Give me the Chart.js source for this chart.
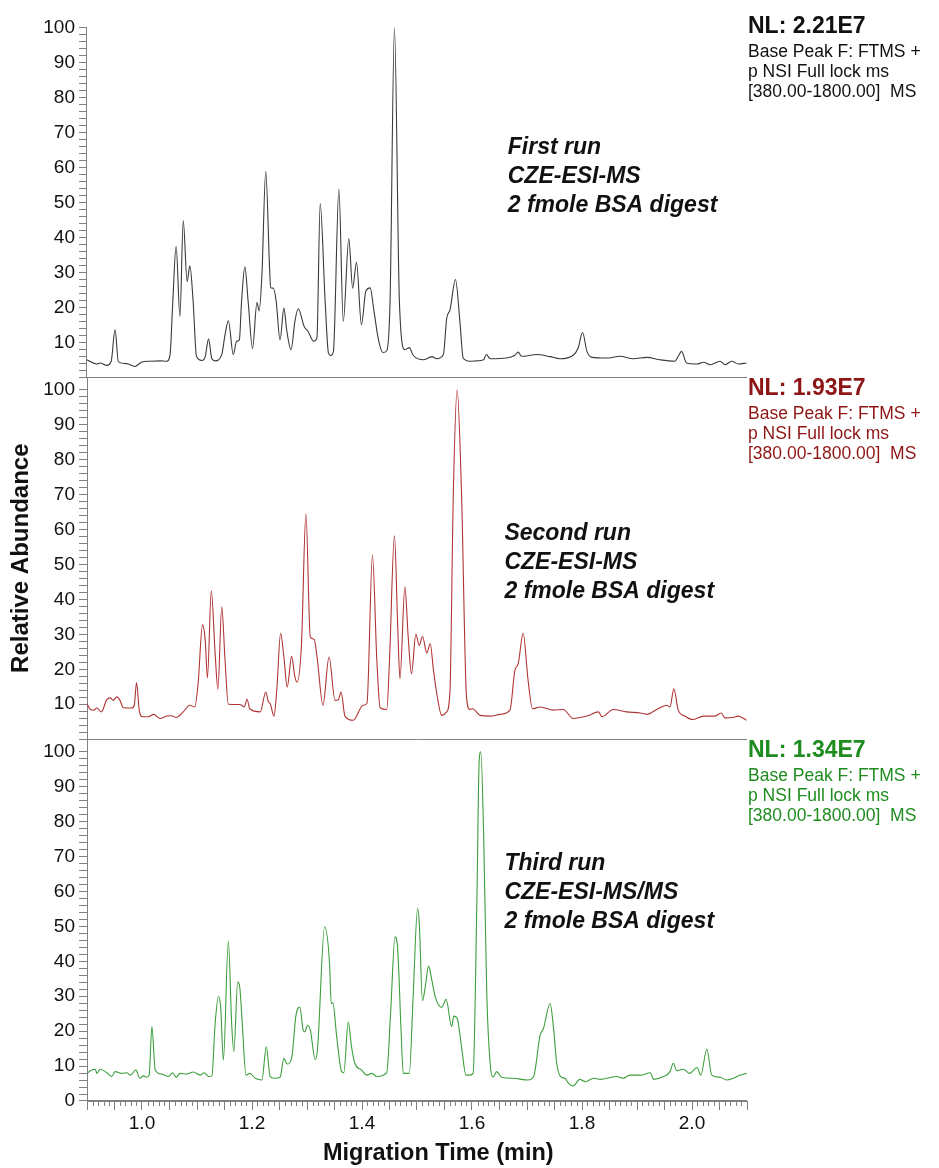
<!DOCTYPE html>
<html lang="en">
<head>
<meta charset="UTF-8">
<title>CZE-ESI-MS base peak electropherograms</title>
<script src="https://cdn.jsdelivr.net/npm/chart.js"></script>
<style>
  html, body { margin: 0; padding: 0; background: #fff; }
  canvas { display: block; }
</style>
</head>
<body>
<canvas id="runsChart" width="939" height="1168"></canvas>
<script>
// migration time (min) / relative abundance (%)
const firstRunTime = [0.900, 0.918, 0.924, 0.936, 0.944, 0.951, 0.957, 0.972, 0.987, 0.999, 1.015, 1.033, 1.045, 1.051, 1.056, 1.062, 1.069, 1.075, 1.082, 1.087, 1.093, 1.099, 1.109, 1.115, 1.121, 1.127, 1.133, 1.145, 1.151, 1.157, 1.166, 1.172, 1.177, 1.181, 1.187, 1.193, 1.201, 1.209, 1.213, 1.218, 1.225, 1.232, 1.234, 1.239, 1.244, 1.251, 1.258, 1.263, 1.271, 1.278, 1.284, 1.295, 1.302, 1.312, 1.318, 1.324, 1.333, 1.339, 1.343, 1.348, 1.358, 1.366, 1.376, 1.383, 1.390, 1.399, 1.407, 1.415, 1.421, 1.430, 1.438, 1.445, 1.451, 1.459, 1.468, 1.478, 1.486, 1.493, 1.512, 1.527, 1.536, 1.548, 1.554, 1.560, 1.570, 1.578, 1.584, 1.596, 1.609, 1.621, 1.626, 1.633, 1.663, 1.678, 1.684, 1.690, 1.718, 1.742, 1.760, 1.784, 1.793, 1.801, 1.809, 1.818, 1.845, 1.869, 1.893, 1.918, 1.942, 1.969, 1.975, 1.981, 1.990, 2.009, 2.021, 2.033, 2.051, 2.060, 2.072, 2.084, 2.099];
const firstRunAbundance = [5.0, 3.8, 4.1, 3.4, 4.6, 13.6, 4.4, 3.9, 3.1, 4.3, 4.6, 4.7, 4.6, 6.5, 21.7, 37.5, 17.4, 44.9, 27.4, 31.9, 21.7, 6.0, 4.8, 6.0, 11.0, 5.3, 4.7, 6.5, 12.2, 16.2, 6.5, 10.3, 10.7, 21.7, 31.6, 21.7, 8.2, 21.4, 19.0, 29.2, 59.0, 31.1, 25.6, 25.5, 21.7, 10.7, 19.8, 13.6, 7.9, 16.0, 19.6, 14.5, 13.1, 10.3, 11.2, 49.7, 21.7, 6.9, 6.2, 7.4, 53.8, 16.0, 39.7, 25.5, 32.9, 15.0, 24.7, 25.6, 19.8, 10.7, 7.1, 7.6, 21.7, 100, 21.7, 7.9, 8.5, 6.3, 5.0, 5.9, 5.3, 6.5, 16.9, 19.3, 28.0, 16.0, 5.5, 4.6, 4.7, 5.0, 6.5, 5.3, 5.5, 6.3, 7.2, 6.0, 6.5, 5.9, 5.3, 6.3, 8.4, 12.8, 7.4, 5.7, 5.5, 6.0, 5.3, 5.7, 5.0, 4.6, 6.0, 7.4, 4.1, 3.8, 4.3, 3.6, 4.6, 3.6, 4.6, 3.8, 4.1];

const secondRunTime = [0.900, 0.906, 0.912, 0.918, 0.926, 0.936, 0.942, 0.948, 0.954, 0.960, 0.966, 0.981, 0.986, 0.990, 0.995, 1.001, 1.012, 1.021, 1.033, 1.045, 1.054, 1.062, 1.075, 1.087, 1.096, 1.102, 1.110, 1.115, 1.119, 1.126, 1.133, 1.138, 1.145, 1.151, 1.157, 1.178, 1.186, 1.191, 1.196, 1.215, 1.225, 1.230, 1.233, 1.240, 1.245, 1.252, 1.258, 1.264, 1.272, 1.278, 1.282, 1.290, 1.298, 1.306, 1.313, 1.319, 1.329, 1.340, 1.351, 1.357, 1.362, 1.369, 1.384, 1.402, 1.409, 1.419, 1.427, 1.433, 1.445, 1.450, 1.459, 1.465, 1.469, 1.478, 1.484, 1.490, 1.498, 1.504, 1.510, 1.518, 1.524, 1.530, 1.536, 1.545, 1.554, 1.560, 1.566, 1.573, 1.581, 1.590, 1.596, 1.601, 1.615, 1.633, 1.651, 1.669, 1.678, 1.684, 1.693, 1.702, 1.710, 1.724, 1.748, 1.766, 1.784, 1.809, 1.830, 1.836, 1.857, 1.881, 1.906, 1.918, 1.936, 1.954, 1.960, 1.967, 1.975, 1.987, 2.002, 2.021, 2.042, 2.053, 2.060, 2.075, 2.084, 2.099];
const secondRunAbundance = [10.2, 8.5, 8.3, 8.9, 7.8, 11.3, 11.8, 11.1, 12.1, 11.1, 9.0, 8.9, 9.7, 16.2, 8.3, 6.4, 6.4, 7.1, 5.9, 6.6, 6.7, 6.2, 7.8, 9.7, 9.2, 15.9, 32.7, 28.2, 17.5, 42.5, 24.4, 14.3, 37.9, 22.5, 10.0, 9.9, 9.2, 11.4, 8.7, 7.8, 13.5, 10.6, 10.2, 6.6, 14.0, 30.3, 23.5, 14.9, 23.7, 17.8, 16.3, 27.3, 64.5, 29.2, 28.6, 22.5, 9.7, 23.5, 11.1, 11.3, 13.5, 6.6, 5.4, 9.7, 10.2, 52.7, 22.5, 9.0, 8.5, 22.5, 58.2, 32.0, 17.3, 43.6, 29.2, 18.7, 30.1, 26.8, 29.4, 24.6, 27.3, 19.7, 13.0, 6.8, 7.8, 14.0, 70.1, 100, 70.1, 12.1, 8.5, 8.7, 6.8, 6.6, 7.1, 8.3, 19.7, 21.6, 30.3, 16.8, 8.7, 9.2, 8.3, 8.5, 5.9, 6.6, 7.8, 6.4, 8.5, 7.8, 7.5, 7.1, 8.5, 9.7, 9.2, 14.4, 8.3, 6.6, 5.6, 6.6, 6.6, 7.5, 6.1, 6.2, 6.6, 5.4];

const thirdRunTime = [0.900, 0.909, 0.915, 0.918, 0.924, 0.936, 0.945, 0.951, 0.963, 0.972, 0.979, 0.989, 0.996, 1.002, 1.009, 1.013, 1.018, 1.024, 1.036, 1.048, 1.056, 1.062, 1.069, 1.081, 1.093, 1.106, 1.113, 1.121, 1.127, 1.133, 1.139, 1.143, 1.148, 1.157, 1.163, 1.167, 1.174, 1.178, 1.183, 1.189, 1.196, 1.206, 1.218, 1.226, 1.233, 1.242, 1.251, 1.258, 1.264, 1.272, 1.280, 1.287, 1.293, 1.296, 1.301, 1.306, 1.315, 1.319, 1.332, 1.341, 1.344, 1.347, 1.354, 1.363, 1.367, 1.375, 1.381, 1.387, 1.399, 1.409, 1.418, 1.427, 1.445, 1.452, 1.460, 1.465, 1.471, 1.475, 1.486, 1.493, 1.501, 1.504, 1.510, 1.515, 1.521, 1.527, 1.533, 1.545, 1.553, 1.563, 1.567, 1.573, 1.581, 1.589, 1.596, 1.602, 1.609, 1.613, 1.616, 1.621, 1.627, 1.633, 1.638, 1.645, 1.654, 1.675, 1.702, 1.712, 1.724, 1.730, 1.742, 1.748, 1.754, 1.761, 1.769, 1.775, 1.784, 1.796, 1.806, 1.821, 1.833, 1.845, 1.863, 1.875, 1.887, 1.906, 1.924, 1.930, 1.948, 1.960, 1.966, 1.972, 1.984, 1.996, 2.009, 2.016, 2.027, 2.036, 2.051, 2.063, 2.075, 2.087, 2.099];
const thirdRunAbundance = [7.9, 8.9, 9.1, 7.9, 9.1, 8.1, 7.0, 8.4, 7.9, 8.1, 7.4, 8.9, 6.5, 7.2, 6.8, 7.4, 21.3, 8.9, 7.7, 7.0, 8.1, 6.8, 7.9, 7.7, 8.3, 7.4, 8.1, 7.0, 7.2, 22.2, 29.9, 27.0, 11.7, 45.8, 22.2, 14.1, 34.1, 32.2, 20.3, 7.4, 7.9, 6.5, 6.0, 15.5, 7.0, 6.5, 6.8, 12.2, 10.6, 12.2, 24.6, 26.8, 20.3, 19.8, 21.7, 20.3, 11.9, 14.6, 49.9, 39.4, 27.9, 28.1, 18.4, 8.4, 8.1, 22.7, 15.5, 10.8, 8.9, 7.4, 7.9, 7.0, 8.1, 25.1, 47.0, 43.2, 20.3, 7.9, 7.9, 29.9, 55.1, 51.3, 28.7, 32.7, 38.6, 34.6, 29.9, 26.8, 29.1, 21.3, 24.3, 23.7, 15.5, 7.4, 7.4, 7.9, 58.5, 97.1, 100, 77.5, 29.9, 10.8, 6.8, 8.4, 6.8, 6.5, 6.0, 7.0, 18.9, 20.8, 27.9, 21.3, 10.8, 7.0, 6.5, 5.2, 4.3, 6.2, 5.5, 6.5, 6.2, 6.5, 7.0, 6.5, 7.4, 7.4, 8.1, 6.2, 7.0, 8.4, 10.8, 8.7, 9.1, 7.9, 9.6, 7.4, 14.8, 7.4, 6.8, 6.0, 6.5, 7.4, 7.9];

const xTickLabels = ['1.0', '1.2', '1.4', '1.6', '1.8', '2.0'];
const yTickLabels = [10, 20, 30, 40, 50, 60, 70, 80, 90, 100];
const nlLabels = ['NL: 2.21E7', 'NL: 1.93E7', 'NL: 1.34E7'];
const scanFilter = ['Base Peak F: FTMS +', 'p NSI Full lock ms', '[380.00-1800.00]  MS'];
const runNotes = [
  ['First run', 'CZE-ESI-MS', '2 fmole BSA digest'],
  ['Second run', 'CZE-ESI-MS', '2 fmole BSA digest'],
  ['Third run', 'CZE-ESI-MS/MS', '2 fmole BSA digest']
];

const family = "'Liberation Sans', Arial, sans-serif";
const axisGray = '#808080';
const inkColor = '#111111';

const panels = [
  {axis: 'yA', line: '#3a3a3a', text: '#111111', noteAt: [1.665, 63.9], zeroLabel: false, border: false},
  {axis: 'yB', line: '#b03434', text: '#8e1515', noteAt: [1.659, 57.0], zeroLabel: false, border: true},
  {axis: 'yC', line: '#3c9e3c', text: '#1f8c1f', noteAt: [1.659, 66.1], zeroLabel: true, border: true}
];

function points(times, values) {
  return times.map((t, i) => ({x: t, y: values[i]}));
}

function yAxis(panel, weight, withTitle) {
  return {
    type: 'linear',
    position: 'left',
    stack: 'runs',
    stackWeight: 1,
    weight: weight,
    min: 0,
    max: 103.6,
    border: {display: panel.border, color: axisGray, width: 1},
    grid: {
      drawOnChartArea: true,
      color: c => (c.tick && c.tick.value === 0) ? axisGray : 'rgba(0,0,0,0)',
      tickColor: axisGray,
      tickLength: 8
    },
    ticks: {
      stepSize: 2,
      includeBounds: false,
      autoSkip: false,
      padding: 4,
      color: inkColor,
      font: {family: family, size: 19},
      callback: v => (yTickLabels.includes(v) || (v === 0 && panel.zeroLabel)) ? String(v) : ''
    },
    title: {
      display: withTitle,
      text: 'Relative Abundance',
      color: inkColor,
      font: {family: family, size: 24, weight: 'bold'},
      padding: {top: 7, bottom: 0}
    },
    afterBuildTicks: s => { s.ticks = s.ticks.filter(t => t.value <= 100); },
    afterFit: s => { s.width = 87; }
  };
}

// minor time ticks, top axis segment, panel captions and the x title
const annotate = {
  id: 'annotate',
  afterDraw(chart) {
    const {ctx, chartArea, scales} = chart;
    const x = scales.x;
    const top = scales.yA;
    ctx.save();
    ctx.strokeStyle = axisGray;
    ctx.lineWidth = 1;
    ctx.beginPath();
    for (let i = 90; i <= 210; i++) {
      if (i % 5 === 0) continue;
      const px = Math.round(x.getPixelForValue(i / 100)) + 0.5;
      ctx.moveTo(px, chartArea.bottom);
      ctx.lineTo(px, chartArea.bottom + 5);
    }
    // first panel's axis line only runs from 100 down
    const ax = Math.round(chartArea.left) - 0.5;
    ctx.moveTo(ax, Math.round(top.getPixelForValue(100)));
    ctx.lineTo(ax, top.bottom);
    ctx.stroke();

    ctx.textAlign = 'left';
    ctx.textBaseline = 'alphabetic';
    panels.forEach((p, k) => {
      const y = scales[p.axis];
      const tx = chartArea.right + 1;
      ctx.fillStyle = p.text;
      ctx.font = 'bold 23px ' + family;
      ctx.fillText(nlLabels[k], tx, y.top + 18);
      ctx.font = '17.5px ' + family;
      scanFilter.forEach((line, i) => ctx.fillText(line, tx, y.top + 42 + i * 20));

      ctx.fillStyle = inkColor;
      ctx.font = 'italic bold 23px ' + family;
      const nx = x.getPixelForValue(p.noteAt[0]);
      const ny = y.getPixelForValue(p.noteAt[1]);
      runNotes[k].forEach((line, i) => ctx.fillText(line, nx, ny + i * 29));
    });

    ctx.fillStyle = inkColor;
    ctx.font = 'bold 23.5px ' + family;
    ctx.fillText('Migration Time (min)', 323, 1160);
    ctx.restore();
  }
};

const series = [
  points(firstRunTime, firstRunAbundance),
  points(secondRunTime, secondRunAbundance),
  points(thirdRunTime, thirdRunAbundance)
];

new Chart(document.getElementById('runsChart'), {
  type: 'line',
  data: {
    datasets: panels.map((p, k) => ({
      label: runNotes[k][0],
      data: series[k],
      xAxisID: 'x',
      yAxisID: p.axis,
      borderColor: p.line,
      borderWidth: 1.1,
      pointRadius: 0,
      fill: false,
      cubicInterpolationMode: 'monotone'
    }))
  },
  options: {
    responsive: false,
    animation: false,
    layout: {padding: {top: 12, right: 192, left: 0, bottom: 0}},
    plugins: {legend: {display: false}, tooltip: {enabled: false}},
    scales: {
      x: {
        type: 'linear',
        position: 'bottom',
        min: 0.9,
        max: 2.1,
        border: {color: axisGray, width: 1},
        grid: {drawOnChartArea: false, tickColor: axisGray, tickLength: 9},
        ticks: {
          stepSize: 0.05,
          includeBounds: false,
          autoSkip: false,
          maxRotation: 0,
          padding: 2,
          color: inkColor,
          font: {family: family, size: 19},
          callback: v => {
            const s = v.toFixed(1);
            return (xTickLabels.includes(s) && Math.abs(v - parseFloat(s)) < 1e-6) ? s : '';
          }
        },
        afterFit: s => { s.height = 67; }
      },
      yC: yAxis(panels[2], 1, false),
      yB: yAxis(panels[1], 2, true),
      yA: yAxis(panels[0], 3, false)
    }
  },
  plugins: [annotate]
});
</script>
</body>
</html>
